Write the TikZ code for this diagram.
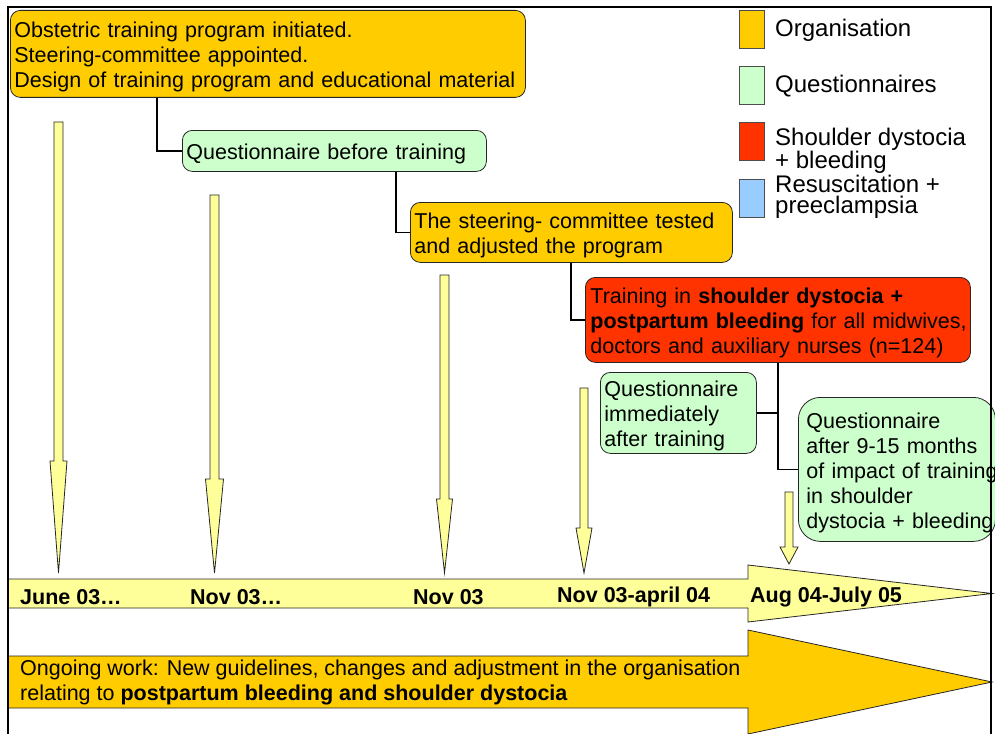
\documentclass[tikz,border=0pt]{standalone}
\usepackage{fontspec}
\setmainfont{Liberation Sans}
\definecolor{org}{HTML}{FFCC00}
\definecolor{qgreen}{HTML}{CCFFCC}
\definecolor{sred}{HTML}{FF3300}
\definecolor{rblue}{HTML}{99CCFF}
\definecolor{ylw}{HTML}{FFFF99}
\newcommand\bxfont{\fontsize{21.5}{25}\selectfont}
\newcommand\lgfont{\fontsize{24}{21}\selectfont}
\newcommand\tmlnfont{\fontsize{21.5}{22}\selectfont\bfseries}
\newcommand\sx{\rule{0pt}{22pt}}
\newcommand\yarrow[6]{%
  \draw[yarr] ({#1-#5},#2) -- ({#1+#5},#2) -- ({#1+#5},#3) -- ({#1+#6},#3) -- (#1,#4) -- ({#1-#6},#3) -- ({#1-#5},#3) -- cycle;}
\tikzset{
  box/.style={draw=black!85, line width=0.8pt, rounded corners=10pt, anchor=north west,
    inner xsep=4pt, inner ysep=0pt, align=left, font=\bxfont},
  conn/.style={draw=black, line width=1.6pt},
  yarr/.style={draw=black!85, fill=ylw, line width=0.8pt},
  lsq/.style={draw=black!70, line width=0.8pt, anchor=north west, minimum width=25pt,
    minimum height=38pt, inner sep=0pt},
  ltext/.style={anchor=west, align=left, font=\lgfont, inner sep=0pt},
  tl/.style={anchor=west, font=\tmlnfont, inner sep=0pt},
}
\begin{document}
\begin{tikzpicture}[x=1pt, y=-1pt]
\useasboundingbox (0,0) rectangle (995,733);
\fill[white] (0,0) rectangle (995,733);

% timeline bar
\draw[fill=ylw, draw=black!85, line width=0.8pt] (8,579) -- (748,579) -- (748,565) -- (992,593.5) -- (748,622) -- (748,608) -- (8,608) -- cycle;
% ongoing work arrow
\draw[fill=org, draw=black!85, line width=0.8pt] (8,656) -- (748,656) -- (748,630) -- (992,682) -- (748,734) -- (748,708) -- (8,708) -- cycle;

% down arrows
\yarrow{58.5}{122}{461}{573}{4.5}{8.5}
\yarrow{214.5}{195}{479}{573}{4.5}{9}
\yarrow{444.5}{275}{499}{573}{4.5}{8}
\yarrow{584}{388}{528}{573}{4}{8}
\yarrow{789}{492}{547}{564}{4}{9}

% boxes
\node[box, fill=org, minimum width=515pt, minimum height=87pt, text width=507pt] (top) at (10,10)
  {\sx Obstetric training program initiated.\\Steering-committee appointed.\\Design of training program and educational material};
\node[box, fill=qgreen, minimum width=304pt, minimum height=41pt, text width=296pt] (qb) at (182,130)
  {\sx Questionnaire before training};
\node[box, fill=org, minimum width=322pt, minimum height=60pt, text width=314pt] (steer) at (410,202)
  {\sx The steering- committee tested\\and adjusted the program};
\node[box, fill=sred, inner xsep=5pt, minimum width=385pt, minimum height=85pt, text width=375pt] (red) at (585,277)
  {\sx\mbox{Training in \textbf{shoulder dystocia +}}\\\mbox{\textbf{postpartum bleeding} for all midwives,}\\\mbox{doctors and auxiliary nurses (n=124)}};
\node[box, fill=qgreen, minimum width=156pt, minimum height=81pt, text width=148pt] (q1) at (600,372)
  {\sx Questionnaire\\immediately\\after training};
\node[box, fill=qgreen, rounded corners=22pt, inner xsep=8pt, minimum width=197pt, minimum height=144pt, text width=181pt] (q2) at (798,397)
  {\sx\mbox{Questionnaire}\\\mbox{after 9-15 months}\\\mbox{of impact of training}\\\mbox{in shoulder}\\\mbox{dystocia + bleeding}};

% connectors
\draw[conn] ([xshift=147pt]top.south west) |- (qb.west);
\draw[conn] ([xshift=214pt]qb.south west) |- (steer.west);
\draw[conn] ([xshift=161pt]steer.south west) |- (red.west);
\draw[conn] ([xshift=193pt]red.south west) coordinate (rb) |- (q2.west);
\draw[conn] (q1.east) -- (q1.east -| rb);

% legend
\node[lsq, fill=org] (l1) at (739,10) {};
\node[lsq, fill=qgreen] (l2) at (739,66) {};
\node[lsq, fill=sred] (l3) at (739,122) {};
\node[lsq, fill=rblue] (l4) at (739,179) {};
\node[ltext] (t1) at (775,30) {Organisation};
\node[ltext] (t2) at (775,86) {Questionnaires};
\node[ltext] (t3) at (775,150.5) {Shoulder dystocia\\+ bleeding};
\node[ltext] (t4) at (775,197) {Resuscitation +\\preeclampsia};

% timeline labels
\node[tl] (d1) at (20,597) {June 03…};
\node[tl] (d2) at (190,597) {Nov 03…};
\node[tl] (d3) at (413,597) {Nov 03};
\node[tl] (d4) at (557,597) {Nov 03-april 04};
\node[tl] (d5) at (750,597) {Aug 04-July 05};

% ongoing work text
\node[anchor=west, align=left, font=\bxfont, inner sep=0pt] (ong) at (20,682)
  {Ongoing work: New guidelines, changes and adjustment in the organisation\\relating to \textbf{postpartum bleeding and shoulder dystocia}};

% frame
\draw[black, line width=1.5pt] (8,740) -- (8,7) -- (991,7) -- (991,740);
\end{tikzpicture}
\end{document}
